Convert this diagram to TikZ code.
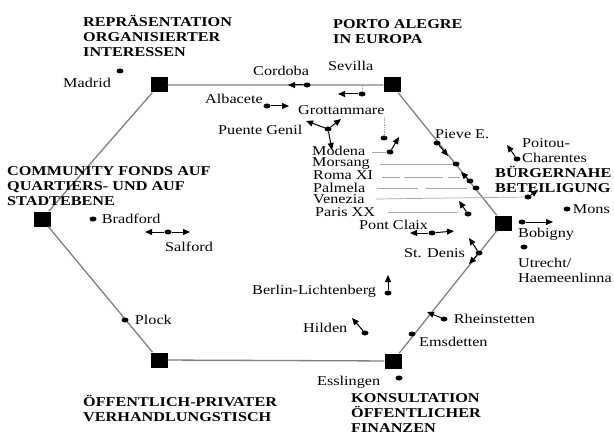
\documentclass[tikz,border=0pt]{standalone}
\usepackage{fontspec}
\setmainfont{Liberation Serif}[FakeStretch=1.2]
\usetikzlibrary{shapes.geometric, arrows.meta, positioning}
\tikzset{
    hubbox/.style={rectangle, fill=black, minimum width=17pt, minimum height=15pt, inner sep=0pt},
    dotmark/.style={ellipse, fill=black, minimum width=7pt, minimum height=5pt, inner sep=0pt},
    citylabel/.style={inner sep=0pt, anchor=base west, align=left, font=\fontsize{13.5}{15}\selectfont},
    titlelabel/.style={inner sep=0pt, anchor=base west, align=left, font=\fontsize{13.5}{15}\selectfont\bfseries},
    hexline/.style={draw=black!50, line width=1.3pt},
    cityarrow/.style={-{Triangle[length=7pt, width=6pt]}, line width=1pt},
    leaderline/.style={draw=black!35, line width=0.7pt},
}
\begin{document}
\begin{tikzpicture}[x=1pt, y=-1pt]
    \useasboundingbox (0,0) rectangle (614,436);
    % Sechseck der Beteiligungsformen
    \node[hubbox] (reprae) at (159,85) {};
    \node[hubbox] (porto) at (392,85) {};
    \node[hubbox] (fonds) at (42,219) {};
    \node[hubbox] (buerger) at (503,223) {};
    \node[hubbox] (tisch) at (159,360) {};
    \node[hubbox] (finanz) at (393,361) {};
    \draw[hexline] (reprae) -- (porto) -- (buerger) -- (finanz) -- (tisch) -- (fonds) -- (reprae);

    \node[titlelabel] (reprT) at (83,57) {REPRÄSENTATION\\ORGANISIERTER\\INTERESSEN};
    \node[titlelabel] (portoT) at (333,44) {PORTO ALEGRE\\IN EUROPA};
    \node[titlelabel] (fondsT) at (7,205) {COMMUNITY FONDS AUF\\QUARTIERS- UND AUF\\STADTEBENE};
    \node[titlelabel] (buergerT) at (495,192) {BÜRGERNAHE\\BETEILIGUNG};
    \node[titlelabel] (tischT) at (83,421) {ÖFFENTLICH-PRIVATER\\VERHANDLUNGSTISCH};
    \node[titlelabel] (finanzT) at (351,432) {KONSULTATION\\ÖFFENTLICHER\\FINANZEN};

    % Staedte oben
    \node[dotmark] (madrid) at (120,71) {};
    \node[citylabel] (madridL) at (63,88) {Madrid};
    \node[dotmark] (cordoba) at (307,85) {};
    \node[citylabel] (cordobaL) at (253,76) {Cordoba};
    \coordinate (cordobaA) at (288,85);
    \draw[cityarrow] (cordoba) -- (cordobaA);
    \node[dotmark] (sevilla) at (362,94) {};
    \node[citylabel] (sevillaL) at (328,71) {Sevilla};
    \coordinate (sevillaF) at (362,86);
    \coordinate (sevillaA) at (338,94);
    \draw[leaderline, densely dotted] (sevillaF) -- (sevilla);
    \draw[cityarrow] (sevilla) -- (sevillaA);
    \node[dotmark] (albacete) at (267,106) {};
    \node[citylabel] (albaceteL) at (205,104) {Albacete};
    \coordinate (albaceteA) at (289,106);
    \draw[cityarrow] (albacete) -- (albaceteA);
    \node[dotmark] (grott) at (384,138) {};
    \node[citylabel] (grottL) at (298,114) {Grottammare};
    \coordinate (grottF) at (384,117);
    \draw[leaderline, densely dotted] (grottF) -- (grott);
    \node[dotmark] (puente) at (328,129) {};
    \node[citylabel] (puenteL) at (218,135) {Puente Genil};
    \coordinate (puenteA) at (306,121);
    \coordinate (puenteB) at (341,119);
    \coordinate (puenteC) at (332,150);
    \draw[cityarrow] (puente) -- (puenteA);
    \draw[cityarrow] (puente) -- (puenteB);
    \draw[cityarrow] (puente) -- (puenteC);

    % Staedte an der rechten Seite
    \node[dotmark] (modena) at (390,152) {};
    \node[citylabel] (modenaL) at (312,156) {Modena};
    \coordinate (modenaF) at (372,152);
    \coordinate (modenaA) at (399,137);
    \draw[leaderline] (modenaF) -- (modena);
    \draw[cityarrow] (modena) -- (modenaA);
    \node[dotmark] (pieve) at (437,143) {};
    \node[citylabel] (pieveL) at (435,139) {Pieve E.};
    \coordinate (pieveA) at (448,156);
    \draw[cityarrow] (pieve) -- (pieveA);
    \node[dotmark] (morsang) at (456,164) {};
    \node[citylabel] (morsangL) at (312,167) {Morsang};
    \coordinate (morsangF) at (380,164);
    \draw[leaderline] (morsangF) -- (morsang);
    \node[dotmark] (roma) at (470,181) {};
    \node[citylabel] (romaL) at (313,179) {Roma XI};
    \coordinate (romaF) at (382,177);
    \coordinate (romaE) at (460,177);
    \coordinate (romaA) at (461,172);
    \draw[leaderline, dash pattern=on 18pt off 4pt on 39pt off 5pt] (romaF) -- (romaE);
    \draw[cityarrow] (roma) -- (romaA);
    \node[dotmark] (palmela) at (476,188) {};
    \node[citylabel] (palmelaL) at (313,192) {Palmela};
    \coordinate (palmelaF) at (377,188);
    \draw[leaderline, dash pattern=on 41pt off 8pt] (palmelaF) -- (palmela);
    \node[dotmark] (venezia) at (528,197) {};
    \node[citylabel] (veneziaL) at (313,203) {Venezia};
    \coordinate (veneziaF) at (376,199);
    \coordinate (veneziaA) at (538,190);
    \draw[leaderline] (veneziaF) -- (venezia);
    \draw[cityarrow] (venezia) -- (veneziaA);
    \node[dotmark] (paris) at (468,214) {};
    \node[citylabel] (parisL) at (315,216) {Paris XX};
    \coordinate (parisF) at (388,212);
    \coordinate (parisE) at (458,212);
    \coordinate (parisA) at (459,201);
    \draw[leaderline] (parisF) -- (parisE);
    \draw[cityarrow] (paris) -- (parisA);
    \node[dotmark] (pont) at (432,233) {};
    \node[citylabel] (pontL) at (359,229) {Pont Claix};
    \coordinate (pontA) at (410,233);
    \coordinate (pontB) at (454,231);
    \draw[cityarrow] (pont) -- (pontA);
    \draw[cityarrow] (pont) -- (pontB);
    \node[dotmark] (denis) at (479,253) {};
    \node[citylabel] (denisL) at (404,257) {St. Denis};
    \coordinate (denisA) at (469,238);
    \coordinate (denisB) at (469,264);
    \draw[cityarrow] (denis) -- (denisA);
    \draw[cityarrow] (denis) -- (denisB);
    \node[dotmark] (poitou) at (517,159) {};
    \node[citylabel] (poitouL) at (522,162) {Poitou-\\Charentes};
    \coordinate (poitouA) at (507,145);
    \draw[cityarrow] (poitou) -- (poitouA);
    \node[dotmark] (mons) at (567,209) {};
    \node[citylabel, anchor=west, right=2pt of mons] (monsL) {Mons};
    \node[dotmark] (bobigny) at (522,222) {};
    \node[citylabel] (bobignyL) at (518,237) {Bobigny};
    \coordinate (bobignyA) at (553,222);
    \draw[cityarrow] (bobigny) -- (bobignyA);
    \node[dotmark] (utrecht) at (524,247) {};
    \node[citylabel] (utrechtL) at (518,282) {Utrecht/\\Haemeenlinna};

    % Staedte unten
    \node[dotmark] (berlin) at (388,293) {};
    \node[citylabel] (berlinL) at (252,294) {Berlin-Lichtenberg};
    \coordinate (berlinA) at (388,275);
    \draw[cityarrow] (berlin) -- (berlinA);
    \node[dotmark] (hilden) at (365,333) {};
    \node[citylabel] (hildenL) at (303,332) {Hilden};
    \coordinate (hildenA) at (352,318);
    \draw[cityarrow] (hilden) -- (hildenA);
    \node[dotmark] (rhein) at (444,319) {};
    \node[citylabel, anchor=west, right=6pt of rhein] (rheinL) {Rheinstetten};
    \coordinate (rheinA) at (427,312);
    \draw[cityarrow] (rhein) -- (rheinA);
    \node[dotmark] (ems) at (412,334) {};
    \node[citylabel] (emsL) at (419,346) {Emsdetten};
    \node[dotmark] (essl) at (399,378) {};
    \node[citylabel] (esslL) at (317,385) {Esslingen};

    % Staedte links
    \node[dotmark] (bradford) at (93,219) {};
    \node[citylabel, anchor=west, right=5pt of bradford] (bradfordL) {Bradford};
    \node[dotmark] (salford) at (168,232) {};
    \node[citylabel] (salfordL) at (165,251) {Salford};
    \coordinate (salfordA) at (145,232);
    \coordinate (salfordB) at (190,232);
    \draw[cityarrow] (salford) -- (salfordA);
    \draw[cityarrow] (salford) -- (salfordB);
    \node[dotmark] (plock) at (125,320) {};
    \node[citylabel, anchor=west, right=6pt of plock] (plockL) {Plock};
\end{tikzpicture}
\end{document}
